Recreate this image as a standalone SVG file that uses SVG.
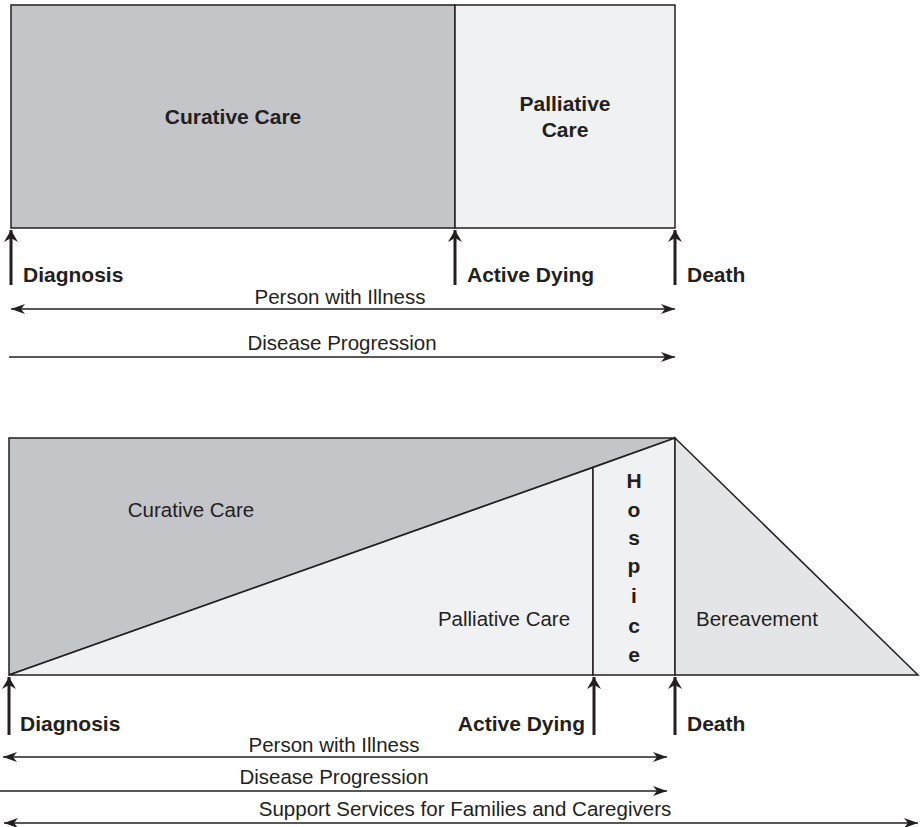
<svg xmlns="http://www.w3.org/2000/svg" width="920" height="827" viewBox="0 0 920 827">
<defs>
<marker id="ah" viewBox="0 0 14 10" refX="14" refY="5" markerWidth="14" markerHeight="10" markerUnits="userSpaceOnUse" orient="auto-start-reverse">
<path d="M0,0 L14,5 L0,10 L4,5 Z" fill="#231f20"/>
</marker>
<marker id="ahb" viewBox="0 0 12 16" refX="12" refY="8" markerWidth="12" markerHeight="16" markerUnits="userSpaceOnUse" orient="auto">
<path d="M0,1 L12,8 L0,15 L4,8 Z" fill="#231f20"/>
</marker>
</defs>
<style>
.t{font-family:"Liberation Sans",Arial,sans-serif;font-size:20.5px;fill:#231f20}
.b{font-family:"Liberation Sans",Arial,sans-serif;font-size:21px;font-weight:bold;fill:#231f20}
.ln{stroke:#231f20;stroke-width:1.5;fill:none}
.up{stroke:#231f20;stroke-width:3;fill:none}
.box{stroke:#231f20;stroke-width:1.5}
</style>
<rect width="920" height="827" fill="#fff"/>
<g id="top-curative">
<rect class="box" x="11" y="5" width="444" height="223" fill="#c4c5c8"/>
<text class="b" x="233" y="124" text-anchor="middle">Curative Care</text>
</g>
<g id="top-palliative">
<rect class="box" x="455" y="5" width="220" height="223" fill="#f0f1f3"/>
<text class="b" x="565" y="111" text-anchor="middle">Palliative</text>
<text class="b" x="565" y="137" text-anchor="middle">Care</text>
</g>
<g id="top-labels">
<text class="b" x="23" y="282">Diagnosis</text>
<text class="b" x="467" y="282">Active Dying</text>
<text class="b" x="687" y="282">Death</text>
<text class="t" x="340" y="304" text-anchor="middle">Person with Illness</text>
<text class="t" x="342" y="350" text-anchor="middle">Disease Progression</text>
</g>
<g id="bottom-curative">
<polygon class="box" points="9,438 675,438 9,675" fill="#c4c5c8"/>
<text class="t" x="191" y="517" text-anchor="middle">Curative Care</text>
</g>
<g id="bottom-palliative">
<polygon class="box" points="9,675 593,467.5 593,675" fill="#f0f1f3"/>
<text class="t" x="504" y="626" text-anchor="middle">Palliative Care</text>
</g>
<g id="hospice">
<polygon class="box" points="593,467.5 675,438 675,675 593,675" fill="#f0f1f3"/>
<text class="b" x="634" y="488" text-anchor="middle">H</text>
<text class="b" x="634" y="517" text-anchor="middle">o</text>
<text class="b" x="634" y="545" text-anchor="middle">s</text>
<text class="b" x="634" y="573" text-anchor="middle">p</text>
<text class="b" x="634" y="603" text-anchor="middle">i</text>
<text class="b" x="634" y="633" text-anchor="middle">c</text>
<text class="b" x="634" y="662" text-anchor="middle">e</text>
</g>
<g id="bereavement">
<polygon class="box" points="675,438 918,675 675,675" fill="#e4e5e7"/>
<text class="t" x="696" y="626">Bereavement</text>
</g>
<g id="bottom-labels">
<text class="b" x="20" y="731">Diagnosis</text>
<text class="b" x="585" y="731" text-anchor="end">Active Dying</text>
<text class="b" x="687" y="731">Death</text>
<text class="t" x="334" y="752" text-anchor="middle">Person with Illness</text>
<text class="t" x="334" y="784" text-anchor="middle">Disease Progression</text>
<text class="t" x="465" y="816" text-anchor="middle">Support Services for Families and Caregivers</text>
</g>
<g id="connectors">
<line class="up" x1="11" y1="285" x2="11" y2="230" marker-end="url(#ahb)"/>
<line class="up" x1="455" y1="285" x2="455" y2="230" marker-end="url(#ahb)"/>
<line class="up" x1="675" y1="285" x2="675" y2="230" marker-end="url(#ahb)"/>
<line class="ln" x1="11" y1="309" x2="675" y2="309" marker-start="url(#ah)" marker-end="url(#ah)"/>
<line class="ln" x1="9" y1="357" x2="675" y2="357" marker-end="url(#ah)"/>
<line class="up" x1="9" y1="735" x2="9" y2="677" marker-end="url(#ahb)"/>
<line class="up" x1="594" y1="735" x2="594" y2="677" marker-end="url(#ahb)"/>
<line class="up" x1="675" y1="735" x2="675" y2="677" marker-end="url(#ahb)"/>
<line class="ln" x1="3" y1="757" x2="667" y2="757" marker-start="url(#ah)" marker-end="url(#ah)"/>
<line class="ln" x1="0" y1="791" x2="667" y2="791" marker-end="url(#ah)"/>
<line class="ln" x1="4" y1="823" x2="918" y2="823" marker-start="url(#ah)" marker-end="url(#ah)"/>
</g>
</svg>
